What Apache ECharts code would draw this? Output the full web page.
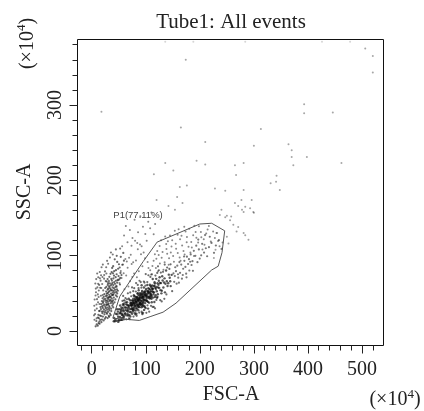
<!DOCTYPE html>
<html>
<head>
<meta charset="utf-8">
<script src="https://cdn.jsdelivr.net/npm/echarts@6/dist/echarts.min.js"></script>
<title>Tube1: All events</title>
<style>html,body{margin:0;padding:0;background:#fff;}</style>
</head>
<body>
<div id="main" style="width:424px;height:411px;"></div>
<script type="text/javascript">
// FSC-A / SSC-A, both in units of 10^4
var gateVertices = [[39,17],[52,46],[95,92],[121,118],[200,142],[222,143],[246,133],[241,104],[234,86],[222,81],[156,37],[132,25],[108,19],[88,14],[39,17]];

// main population (inside P1)
var coreEvents = [
  [87.3,36.2],[62.9,38],[113.6,44.3],[74.1,34.6],[99.8,30.4],[131.2,67.1],[56.7,22.9],[92.4,60.7],[108.9,44],[68.3,33.7],
  [121.5,45.3],[83.6,45.3],[145.2,66.1],[77.9,47.5],[104.3,29.7],[59.1,26.1],[95.7,38.4],[116.8,62.9],[71.4,19.2],[88.2,42.6],
  [137.6,80.3],[64.5,20.8],[101.9,46.5],[81.3,27.2],[126.4,63.7],[93.8,22.4],[52.6,33.8],[110.7,46.9],[76.2,40.6],[98.4,31.7],
  [85.1,40],[67.7,20.4],[119.3,69.2],[90.6,34.8],[73.2,37.1],[106.8,49.9],[61.4,22.2],[97.1,52.1],[128.9,50],[79.6,34.3],
  [112.2,55.6],[54.3,14.7],[86.9,54],[102.5,39.8],[70.8,40.9],[140.3,59.7],[94.2,45.6],[65.9,34.5],[115.4,51.2],[82.7,22.9],
  [124.1,66.6],[58.4,27.7],[91.9,31.5],[107.6,61.3],[75.5,28.3],[133.8,64.4],[96.3,41.7],[69.2,31.1],[111.1,38.1],[84.4,43.7],
  [49.7,14.4],[100.7,55.9],[78.3,31.7],[118.2,47.6],[89.8,41.4],[63.7,35.4],[147.9,74.5],[105.2,52.1],[72.6,24.8],[93.1,53.1],
  [122.7,57.9],[80.9,40],[57.2,30.1],[98.9,37],[114.6,59.8],[66.8,25.9],[86.2,27.6],[109.4,49.2],[76.9,43],[135.5,51.3],
  [92.8,39.9],[60.3,40.7],[103.6,53.3],[83.1,38.1],[127.3,54.2],[71.9,34.5],[96.9,28],[117.5,57.3],[55.8,21.4],[88.7,46.9],
  [142.6,74.8],[74.7,22.9],[101.3,43.2],[64.9,27],[112.9,69],[87.8,34.4],[120.4,52.7],[79.1,46.1],[99.5,47.3],[68.6,42.8],
  [130.4,72.7],[94.9,34],[53.1,25.1],[106.2,37.6],[82.2,38.6],[124.9,57],[73.8,33.4],[90.1,44.6],[115.9,38.5],[62.1,23.6],
  [97.7,49.4],[138.9,66],[77.4,27.7],[104.8,56.9],[85.7,34.4],[51.4,14.2],[110.1,52.6],[70.2,25.6],[93.6,43.3],[121.8,63.4],
  [81.8,30.4],[59.7,19.4],[102.9,61],[88.9,38],[132.6,57.8],[75.9,37.5],[108.3,54.7],[66.2,30.6],[95.3,49.2],[117.1,45.1],
  [84.1,29.6],[146.1,59.6],[72.1,37.6],[100.2,40.6],[57.9,20.5],[113.2,56.1],[86.5,47.8],[125.6,71.3],[78.8,36.9],[92.1,37.6],
  [67.3,28.2],[105.9,45.5],[80.4,42.7],[119.9,58.5],[63.2,31.1],[97.4,33.2],[134.7,69.9],[74.3,40.7],[90.9,40],[111.7,60.4],
  [55.1,31.1],[87.6,43.3],[128.2,63.6],[69.7,21.4],[103.1,49.1],[83.9,34.5],[116.3,64.7],[61.1,31.1],[94.6,36.8],[141.5,63.3],
  [76.6,25.8],[107.2,43.1],[89.3,50.2],[122.3,48.7],[65.4,38.2],[98.2,47.6],[79.9,23.5],[109.9,58.5],[58.9,34],[91.3,47.2],
  [136.4,62.7],[71.1,29.1],[104.1,38.6],[85.4,50.2],[118.6,55.8],[68.1,33.6],[96.6,57.8],[81.5,39.3],[114.1,48.6],[53.9,28.5],
  [92.6,48.8],[129.7,53.4],[77.1,39.1],[100.9,47],[62.6,27.8],[110.6,42.8],[86.8,31.9],[123.5,61.3],[73.5,29.3],[95.1,45.1],
  [144.3,70.7],[66.4,22.7],[106.5,55.8],[82.9,42],[120.9,44],[59.4,36.2],[99.1,51.1],[75.2,36.1],[112.5,52.8],[88.4,31.7],
  [47.3,22.2],[43.8,15.4],[50.6,28.8],[45.9,13.5],[52.1,18.6],[48.4,25.7],[41.5,17.3],[55.4,17.2],[46.8,28.9],[53.7,23.4],
  [42.9,12.9],[57.6,35.3],[49.2,12.1],[44.6,22.8],[51.8,23.4],[56.3,14.7],[40.8,12.9],[54.7,26.9],[48.9,19],[58.6,17.8],
  [83.4,36.2],[91.6,44.3],[76.4,34.7],[102.3,44.7],[88.1,44.6],[95.9,40.5],[79.3,41.2],[107.9,51.5],[85.9,32.5],[99.7,53.4],
  [72.9,34],[110.3,45.7],[93.4,35.2],[81.1,45.1],[104.6,50.8],[89.6,36.3],[97.9,45.5],[78.1,29.6],[113.9,51.5],[86.1,40.6],
  [94.4,46.7],[74.9,31],[101.6,40.3],[90.4,48.7],[82.4,32.7],[108.7,59.9],[96.1,42.6],[77.7,37.4],[105.4,44.2],[87.1,40.1],
  [92.9,51],[80.1,33.6],[111.9,56.5],[84.7,41.9],[98.6,40.8],[71.6,36.3],[103.8,52.4],[89.1,37.1],[94.1,32.6],[116.4,59.7],
  [83.7,44.4],[100.4,48.7],[75.7,29.4],[106.9,46],[91.1,35.1],[86.4,41.7],[97.3,51.2],[79.8,36.4],[109.1,48.1],[93.9,44.5]
];

// wider fringe of the main population
var coreFringeEvents = [
  [71.3,51.2],[95.2,24.1],[108.6,71.8],[83.2,20.1],[62.4,43.7],[126.8,40.9],[90.7,64.9],[77.3,19.2],[117.9,73.5],[101.1,24.1],
  [66.9,50],[138.2,48.6],[86.6,56.8],[112.7,31.9],[74.6,57.8],[97.6,64.3],[58.2,46.6],[131.9,78.5],[80.6,21.8],[104.9,74],
  [92.3,25.7],[68.8,16.9],[121.2,77.1],[85.2,61.1],[109.7,33.4],[63.9,15.5],[99.3,60.2],[143.7,82.4],[76.8,52.9],[114.8,31.9],
  [88.4,66.7],[59.6,15.3],[127.9,77.5],[93.2,24.1],[81.7,52.4],[106.3,25.7],[73.1,46.1],[119.6,41.3],[96.4,65.7],[65.1,42.1],
  [134.3,42.7],[87.9,24.5],[102.8,64.9],[70.4,15.7],[111.4,75.2],[78.6,56.8],[124.2,80.6],[91.8,57.4],[56.9,39.9],[139.6,84.3],
  [84.3,49.6],[103.2,34.1],[117.1,30.1],[129.5,39.3],[148.8,52.9],[145.9,88.5],[135.1,88.1],[122.6,85.8],[99.9,75.5],[82.1,63.6]
];

// upper end of the main band
var bandTailEvents = [
  [163.4,77.2],[191.7,99.8],[152.6,65.3],[178.3,88.9],[207.8,104.1],[169.2,82.6],[155.9,79.4],[186.4,92.7],[221.6,116.9],[160.1,70.8],
  [198.2,108.3],[174.7,76.1],[213.5,99.2],[158.3,86.7],[183.1,101.6],[166.9,69.4],[229.7,113.5],[195.6,91.4],[171.4,93.2],[153.8,72.9],
  [204.3,115.7],[180.6,80.3],[162.2,91.5],[188.9,106.4],[218.4,125.1],[176.1,98.7],[157.1,62.8],[199.8,96.1],[168.5,74.3],[235.3,120.6],
  [184.7,87.6],[151.2,76.4],[211.1,109.8],[173.3,85.1],[193.4,113.2],[161.3,64.1],[226.2,103.7],[179.9,95.3],[165.6,88.2],[202.5,100.4],
  [154.5,84.6],[187.3,79.9],[216.9,111.2],[170.8,98.9],[197.1,121.4],[159.6,75.3],[182.2,91.9],[209.7,127.3],[175.4,71.2],[240.2,108.9]
];

// sparser events in the upper half of the gate
var gateUpperEvents = [
  [146.3,104.2],[118.7,83.6],[201.9,131.4],[163.5,121.8],[129.4,97.3],[185.2,110.7],[109.8,74.9],[224.6,132.1],[152.1,91.8],[137.8,115.6],
  [193.6,123.9],[121.3,106.2],[171.9,101.4],[233.8,119.3],[142.4,87.9],[180.4,135.7],[114.5,93.1],[158.9,127.6],[207.3,121.8],[132.7,81.3],
  [189.1,99.6],[125.6,112.9],[167.3,113.4],[216.7,139.2],[148.9,120.3],[105.1,83.7],[176.2,124.8],[139.6,102.5],[198.4,138.9],[156.2,109.1],
  [227.9,123.6],[116.9,101.8],[184.1,118.2],[134.9,91.2],[211.8,129.5],[162.7,97.7],[122.8,79.4],[173.6,131.9],[144.8,126.7],[192.2,131.3],
  [103.4,91.6],[236.5,112.4],[155.4,115.8],[128.3,120.4],[204.9,108.2],[169.8,106.3],[112.3,86.4],[187.7,127.1],[150.6,99.4],[220.3,118.7],
  [135.9,125.3],[179.1,111.8],[160.8,135.1],[126.1,89.7],[196.9,117.6],[143.1,96.6],[214.4,134.7],[166.1,126.5],[119.6,95.8],[182.6,104.2],
  [138.3,108.9],[230.9,130.2],[153.7,133.2],[108.2,80.6],[175.7,117.9],[147.6,112.1],[202.8,124.4],[131.1,104.7],[189.9,139.6],[159.2,103.5],
  [242.1,117.3],[123.9,100.9],[171.2,138.4],[140.9,119.2],[208.6,114.6],[164.4,93.4]
];

// small-FSC population left of the gate
var leftArmEvents = [
  [27.5,34.2],[14.1,12.6],[38.6,57.8],[31.9,45.1],[19.8,23.7],[44.3,71.4],[36.7,39.6],[26.1,18.3],[33.5,63.2],[42.4,50.8],
  [22.6,28.9],[9.2,8.7],[51.7,84.3],[24.8,42.7],[33.1,31.5],[29.4,54.9],[15.3,20.6],[47.9,67.8],[20.9,37.2],[37.5,47.6],
  [30.2,25.4],[39.4,76.5],[45.6,59.9],[18.9,15.2],[38.1,33.6],[26.7,52.3],[40.8,44.4],[14.7,26.8],[36.2,69.1],[29.8,38.9],
  [52.3,61.7],[12.8,10.4],[23.4,48.9],[26.3,30.2],[47.2,91.7],[34.8,55.6],[23.6,22.1],[34.2,41.3],[55.1,74.2],[17.6,35.7],
  [28.3,46.8],[41.7,64.9],[11.6,17.9],[48.4,53.4],[35.9,29.6],[44.9,80.7],[20.1,43.5],[31.2,36.4],[27.1,58.6],[27.4,24.3],
  [31.8,66.3],[35.6,49.7],[22.1,14.1],[56.6,87.9],[25.6,40.2],[19.3,32.8],[41.1,56.7],[32.7,27.5],[49.6,72.9],[33.9,45.9],
  [17.4,19.8],[29.7,61.1],[42.3,38.1],[53.8,98.4],[31.3,51.6],[33.8,23.1],[40.2,69.8],[28.9,43.9],[17.9,11.7],[36.9,78.2],
  [24.1,34.9],[37.9,54.1],[44.6,47.2],[21.4,26.1],[48.8,82.6],[38.4,63.8],[29.2,31.1],[39.7,40.8],[24.9,57.1],[24.4,16.4],
  [27.8,49.3],[50.9,68.4],[35.4,36.9],[12.3,21.5],[35.1,60.4],[35.2,44.9],[42.6,95.1],[17.1,29.1],[32.8,53.1],[46.1,75.3],
  [21.6,39.3],[8.6,13.3],[27.8,65.7],[25.1,32.1],[32.2,48.1],[39.7,86.1],[43.9,58.2],[24.2,24.9],[43.8,42.1],[32.6,71.9],
  [30.5,35.1],[38.9,51.1],[20.7,19.1],[43.1,62.6],[26.1,46.3],[28.6,28.2],[58.4,103.6],[46.7,55.2],[26.9,37.8],[41.5,79.4],
  [14.6,9.6],[29.5,50.2],[32.4,33.2],[37.3,66.9],[30.7,41.9],[28.3,22.8],[32.1,59.3],[22.3,45.4],[50.4,88.6],[20.4,30.7],
  [40.6,52.9],[29.4,17.2],[41.2,73.6],[38.3,38.6],[47.1,64.1],[25.3,27.1],[40.1,48.7],[30.6,56.2],[28.1,35.4],[59.6,93.3],
  [31.6,20.2],[36.8,61.9],[31.4,44.1],[11.2,7.1],[52.8,70.5],[16.2,31.8],[35.9,53.8],[18.6,25.9],[53.2,77.1],[27.9,40.5],
  [33.2,57.5],[15.8,14.8],[39.1,47.9],[37.8,83.7],[39.6,36.1],[29.4,68.9],[31.9,29.4],[45.3,51.9],[35.2,21.1],[30.3,63.5],
  [37.1,43.1],[7.3,6.2],[46.3,99.8],[21.7,33.9],[47.2,49.9],[39.9,60.9],[36.2,26.4],[34.8,75.9],[33.3,39.8],[13.4,16.9],
  [43.2,54.6],[39.8,31.4],[44.6,66.7],[46.9,45.7],[32.3,18.8]
];

// left edge of the small-FSC population
var leftArmEdgeEvents = [
  [6.2,22.4],[8.9,35.1],[5.4,41.8],[11.3,48.6],[7.6,56.3],[13.8,61.2],[9.4,29.7],[4.8,33.6],[12.1,71.4],[16.4,66.8],
  [7.1,47.2],[10.5,57.9],[14.9,78.3],[18.2,84.6],[6.7,63.1],[9.8,42.3],[13.1,53.7],[5.9,27.4],[11.7,38.2],[15.6,57.4],
  [8.3,68.9],[12.8,45.1],[17.3,73.9],[20.6,88.1],[10.1,76.4],[22.9,69.5],[19.4,62.3],[14.3,35.8],[7.9,51.4],[24.6,79.1],
  [21.3,53.9],[16.9,46.7],[18.8,39.6],[26.8,84.7],[23.1,74.2],[11.9,62.6],[28.5,93.1],[15.2,70.1],[9.1,16.8],[5.1,14.9],
  [13.6,26.4],[25.9,66.2],[20.2,47.8],[30.4,89.2],[17.7,57.1],[4.3,20.8],[22.4,41.9],[27.2,76.3],[33.7,97.6],[19.9,71.6],
  [35.6,104.2],[44.7,108.3],[38.9,101.5],[52.6,109.4]
];

// events between the left population and the gate, and above both
var bridgeEvents = [
  [64.9,92.1],[51.4,63.8],[87.1,79.2],[57.9,88.3],[75.1,71.6],[96.1,104.2],[60.6,55.4],[81.9,93.7],[53.8,79.5],[70.8,66.1],
  [89.4,114.8],[66.4,83.9],[78.4,76.2],[62.3,95.7],[93.8,86.1],[72.2,101.3],[55.2,70.4],[85.3,108.6],[67.9,59.2],[80.2,119.7],
  [46.3,58.7],[98.7,96.4],[73.9,88.8],[59.1,76.5],[91.2,101.9],[76.7,91.4],[48.7,67.3],[83.6,71.5],[69.1,97.2],[63.8,73.6],
  [75.4,123.4],[85.7,131.2],[66.2,117.9],[94.8,138.3],[104.6,145.1],[79.3,147.6],[110.4,157.3],[70.6,134.1],[89.9,152.4],[59.8,126.7],
  [99.2,128.6],[108.1,136.4],[117.3,141.9],[56.3,112.4],[63.1,139.2],[84.2,116.7],[101.7,119.8],[114.6,128.3],[73.6,113.2],[92.4,112.5]
];

var outerEvents = [
  [237,154],[247,151],[256,147],[262,141],[271,138],[268,132],[281,130],[284,127],[290,121],[278,161],[284,165],[300,157],[250,125],[253,116],[232,130],[229,108],[226,97],
  [265,170],[277,174],[296,174],[293,163],[271,166],[281,158],[299,158],[240,161],[250,153],[258,152],[158,178],[168,170],[142,166],[154,161],[120,174]
];

var sparseEvents = [
  [174,360],[165,270],[210,251],[194,226],[210,221],[136,223],[115,208],[151,213],[176,193],[163,191],[228,189],[247,186],[265,220],[281,223],[267,207],[300,246],[313,268],
  [393,301],[393,289],[446,290],[364,248],[370,240],[370,231],[398,231],[373,220],[462,223],[342,206],[341,198],[331,196],[348,187],[281,187],[18,291],[506,375],[520,365],[520,343]
];

var edgeEvents = [[136,384],[188,384],[284,384],[426,384],[478,384]];

var chart = echarts.init(document.getElementById('main'));
var serif = 'Liberation Serif';
var ink = '#222';

function hiddenAxis(i) {
  return {gridIndex: i, type: 'value', show: false, min: 0, max: 1, axisLine: {onZero: false}};
}
function tickAxis(i, min, max, interval, offset, len, labels) {
  return {
    gridIndex: i, type: 'value', min: min, max: max, interval: interval, offset: offset,
    axisLine: {show: false, onZero: false},
    axisTick: {show: true, length: len, lineStyle: {color: ink, width: 1}},
    axisLabel: labels ? labels : {show: false},
    splitLine: {show: false}
  };
}
function scatter(data, color, size) {
  return {
    type: 'scatter', xAxisIndex: 1, yAxisIndex: 1, data: data, clip: false, silent: true,
    symbol: 'circle', symbolSize: size || 2, itemStyle: {color: color}
  };
}

var option = {
  animation: false,
  grid: [
    {left: 77.5, right: 40.5, top: 39.5, bottom: 65.5, show: true, borderColor: '#111', borderWidth: 1, backgroundColor: 'transparent'},
    {left: 80.9, right: 51.2, top: 44.7, bottom: 80},
    {left: 91.7, right: 62, top: 105, bottom: 80}
  ],
  xAxis: [
    hiddenAxis(0),
    tickAxis(1, -20, 520, 20, 14.5, 5),
    tickAxis(2, 0, 500, 100, 14.5, 8, {margin: 14, fontFamily: serif, fontSize: 20, color: ink})
  ],
  yAxis: [
    hiddenAxis(0),
    tickAxis(1, 0, 380, 20, 3.4, 5),
    tickAxis(2, 0, 300, 100, 14.2, 8, {margin: 12, rotate: 90, fontFamily: serif, fontSize: 20, color: ink})
  ],
  series: [
    scatter(leftArmEdgeEvents, 'rgba(30,30,30,0.75)', 2.1),
    scatter(leftArmEvents, 'rgba(20,20,20,0.8)', 2.2),
    scatter(bridgeEvents, 'rgba(40,40,40,0.7)'),
    scatter(coreFringeEvents, 'rgba(25,25,25,0.8)', 2.2),
    scatter(coreEvents, 'rgba(10,10,10,0.85)', 2.4),
    scatter(bandTailEvents, 'rgba(30,30,30,0.75)', 2.2),
    scatter(gateUpperEvents, 'rgba(45,45,45,0.7)'),
    scatter(outerEvents, 'rgba(60,60,60,0.6)'),
    scatter(sparseEvents, 'rgba(70,70,70,0.6)'),
    scatter(edgeEvents, 'rgba(150,150,150,0.5)'),
    {
      type: 'line', xAxisIndex: 1, yAxisIndex: 1, data: gateVertices, clip: false, silent: true,
      symbol: 'none', lineStyle: {color: '#555', width: 1}
    }
  ],
  graphic: [
    {type: 'text', x: 231, y: 22, style: {text: 'Tube1: All events', fontFamily: serif, fontSize: 21, fill: ink, align: 'center', verticalAlign: 'middle'}},
    {type: 'text', x: 231, y: 395, style: {text: 'FSC-A', fontFamily: serif, fontSize: 20, fill: ink, align: 'center', verticalAlign: 'middle'}},
    {type: 'text', x: 24.5, y: 192, rotation: Math.PI / 2, style: {text: 'SSC-A', fontFamily: serif, fontSize: 20, fill: ink, align: 'center', verticalAlign: 'middle'}},
    {type: 'text', x: 27.5, y: 43.5, rotation: Math.PI / 2, style: {
      text: '{a|(×10}{b|4}{a|)}', align: 'center', verticalAlign: 'middle',
      rich: {a: {fontFamily: serif, fontSize: 20, lineHeight: 24, fill: ink, color: ink}, b: {fontFamily: serif, fontSize: 13, lineHeight: 24, verticalAlign: 'top', fill: ink, color: ink}}
    }},
    {type: 'text', x: 395, y: 400, style: {
      text: '{a|(×10}{b|4}{a|)}', align: 'center', verticalAlign: 'middle',
      rich: {a: {fontFamily: serif, fontSize: 20, lineHeight: 24, fill: ink, color: ink}, b: {fontFamily: serif, fontSize: 13, lineHeight: 24, verticalAlign: 'top', fill: ink, color: ink}}
    }},
    {type: 'text', x: 113.3, y: 215, style: {text: 'P1(77.11%)', fontFamily: 'Liberation Sans', fontSize: 9.5, fill: '#444', align: 'left', verticalAlign: 'middle'}}
  ]
};

chart.setOption(option);
</script>
</body>
</html>
